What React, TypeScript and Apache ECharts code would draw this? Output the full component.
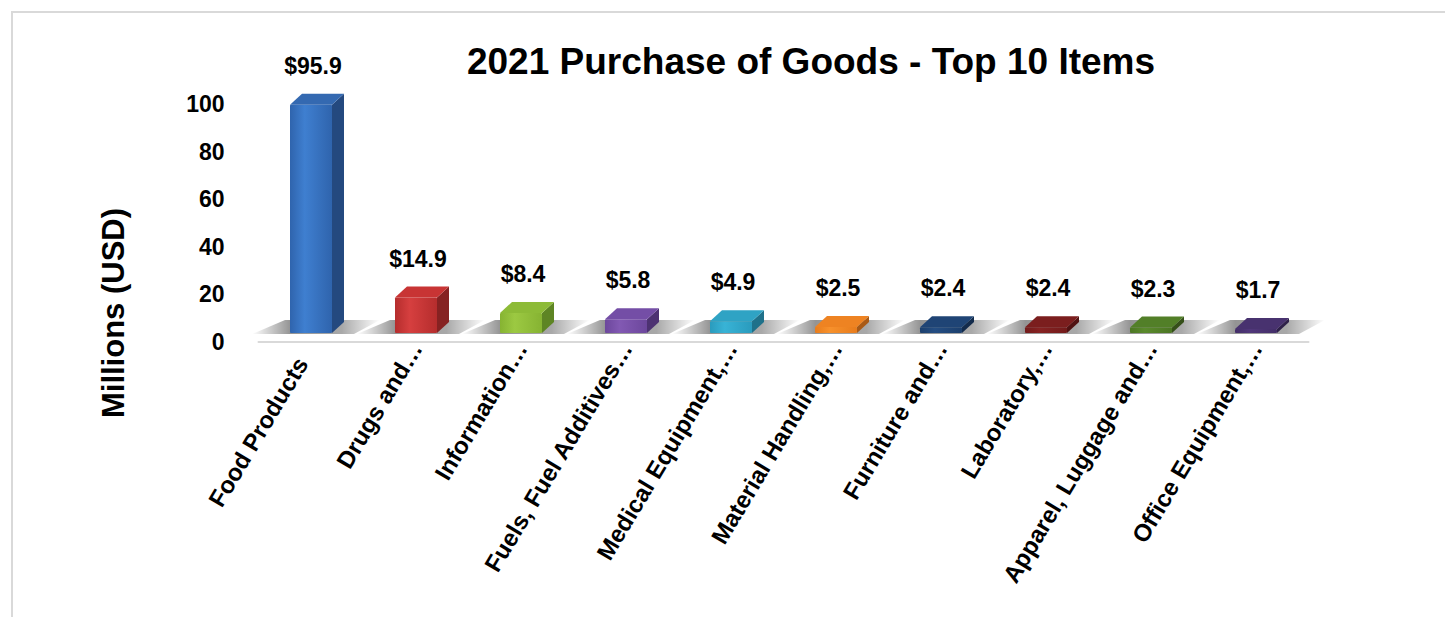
import React, { useEffect, useRef } from "react";
import * as echarts from "echarts";

const categories: string[] = [
  "Food Products",
  "Drugs and…",
  "Information…",
  "Fuels, Fuel Additives…",
  "Medical Equipment,…",
  "Material Handling,…",
  "Furniture and…",
  "Laboratory,…",
  "Apparel, Luggage and…",
  "Office Equipment,…",
];
const values: number[] = [95.9, 14.9, 8.4, 5.8, 4.9, 2.5, 2.4, 2.4, 2.3, 1.7];
const yTicks = { min: 0, max: 100, interval: 20 };
const titleText = "2021 Purchase of Goods - Top 10 Items";
const yAxisTitle = "Millions (USD)";

// [front light, front dark, side, top]
const palette: string[][] = [
  ["#3f7fd0", "#2f64ad", "#24497f", "#3469b1"],
  ["#d63f3f", "#b52d2d", "#862222", "#c83434"],
  ["#9cc942", "#86b332", "#5e8524", "#8dbb37"],
  ["#8259b3", "#6c479c", "#4d3272", "#744ea6"],
  ["#38b3d6", "#2a9bbd", "#1f718a", "#2fa3c4"],
  ["#f7912c", "#e87c1c", "#a95a16", "#ee8322"],
  ["#244d82", "#1c3f6d", "#132b4c", "#1f4475"],
  ["#862222", "#731b1b", "#511212", "#7b1e1e"],
  ["#5a8a2c", "#4c7624", "#354f19", "#527f28"],
  ["#50377a", "#432e68", "#2e2049", "#48326f"],
];

const FONT = "Liberation Sans, Arial, sans-serif";

export default function App() {
  const ref = useRef<HTMLDivElement>(null);

  useEffect(() => {
    if (!ref.current) return;
    const chart = echarts.init(ref.current, undefined, { renderer: "svg" });

    const data = values.map((v, i) => [i, v]);
    const labelText = { color: "#000", fontFamily: FONT, fontWeight: "bold", fontSize: 24 };

    const option: any = {
      animation: false,
      backgroundColor: "#ffffff",
      grid: { left: 258.5, right: 136.5, top: 104, bottom: 275, containLabel: false },
      xAxis: {
        type: "category",
        data: categories,
        axisTick: { show: false },
        axisLine: { show: true, lineStyle: { color: "#d9d9d9", width: 2 } },
        axisLabel: {
          interval: 0,
          rotate: 59,
          margin: 2,
          ...labelText,
          formatter: (val: string, i: number) =>
            i === 0 ? `{a|${val}}` : `{b|${val}}`,
          rich: {
            a: { ...labelText, padding: [0, 18, 0, 0] },
            b: { ...labelText },
          },
        },
        splitLine: { show: false },
      },
      yAxis: {
        type: "value",
        min: yTicks.min,
        max: yTicks.max,
        interval: yTicks.interval,
        axisLine: { show: false },
        axisTick: { show: false },
        splitLine: { show: false },
        axisLabel: {
          margin: 34,
          color: "#000",
          fontFamily: FONT,
          fontWeight: "bold",
          fontSize: 23,
        },
      },
      graphic: [
        {
          type: "rect",
          shape: { x: 12, y: 12, width: 1460, height: 640 },
          style: { fill: "none", stroke: "#d9d9d9", lineWidth: 2 },
          silent: true,
          z: -1,
        },
        {
          type: "text",
          x: 811,
          y: 61,
          style: {
            text: titleText,
            fill: "#000",
            font: `bold 37px ${FONT}`,
            textAlign: "center",
            textVerticalAlign: "middle",
          },
        },
        {
          type: "text",
          x: 113,
          y: 313,
          rotation: Math.PI / 2,
          style: {
            text: yAxisTitle,
            fill: "#000",
            font: `bold 31px ${FONT}`,
            textAlign: "center",
            textVerticalAlign: "middle",
          },
        },
      ],
      series: [
        {
          type: "custom",
          data,
          encode: { x: 0, y: 1 },
          renderItem: (params: any, api: any) => {
            const idx = api.value(0);
            const v = api.value(1);
            const top = api.coord([idx, v]);
            const base = api.coord([idx, 0]);
            const bw = api.size([1, 0])[0] * 0.4;
            const lift = 9;
            const dx = 12;
            const dy = -11;
            const bx = top[0] - bw / 2;
            const topY = top[1] - lift;
            const baseY = base[1] - lift;
            const c = palette[params.dataIndex % palette.length];
            const frontGrad = {
              type: "linear",
              x: 0,
              y: 0,
              x2: 1,
              y2: 0,
              colorStops: [
                { offset: 0, color: c[1] },
                { offset: 0.35, color: c[0] },
                { offset: 1, color: c[1] },
              ],
            };
            const shadowGrad = {
              type: "linear",
              x: 0,
              y: 0,
              x2: 1,
              y2: 0,
              colorStops: [
                { offset: 0, color: "rgba(0,0,0,0)" },
                { offset: 0.3, color: "rgba(0,0,0,0.42)" },
                { offset: 0.7, color: "rgba(0,0,0,0.34)" },
                { offset: 1, color: "rgba(0,0,0,0)" },
              ],
            };
            return {
              type: "group",
              children: [
                {
                  type: "polygon",
                  shape: {
                    points: [
                      [bx - 38, baseY + 1],
                      [bx + bw + 22, baseY + 1],
                      [bx + bw + 48, baseY - 13],
                      [bx - 5, baseY - 13],
                    ],
                  },
                  style: { fill: shadowGrad },
                },
                {
                  type: "polygon",
                  shape: {
                    points: [
                      [bx + bw, topY],
                      [bx + bw + dx, topY + dy],
                      [bx + bw + dx, baseY + dy],
                      [bx + bw, baseY],
                    ],
                  },
                  style: { fill: c[2] },
                },
                {
                  type: "rect",
                  shape: { x: bx, y: topY, width: bw, height: baseY - topY, r: 1 },
                  style: { fill: frontGrad },
                },
                {
                  type: "polygon",
                  shape: {
                    points: [
                      [bx, topY],
                      [bx + bw, topY],
                      [bx + bw + dx, topY + dy],
                      [bx + dx, topY + dy],
                    ],
                  },
                  style: { fill: c[3] },
                },
                {
                  type: "text",
                  x: bx + bw / 2 + 2,
                  y: topY + dy - 28,
                  style: {
                    text: "$" + Number(v).toFixed(1),
                    fill: "#000",
                    font: `bold 23px ${FONT}`,
                    textAlign: "center",
                    textVerticalAlign: "middle",
                  },
                },
              ],
            };
          },
        },
      ],
    };

    chart.setOption(option);
    return () => chart.dispose();
  }, []);

  return (
    <div
      ref={ref}
      style={{ position: "fixed", left: 0, top: 0, width: 1445, height: 617 }}
    />
  );
}
